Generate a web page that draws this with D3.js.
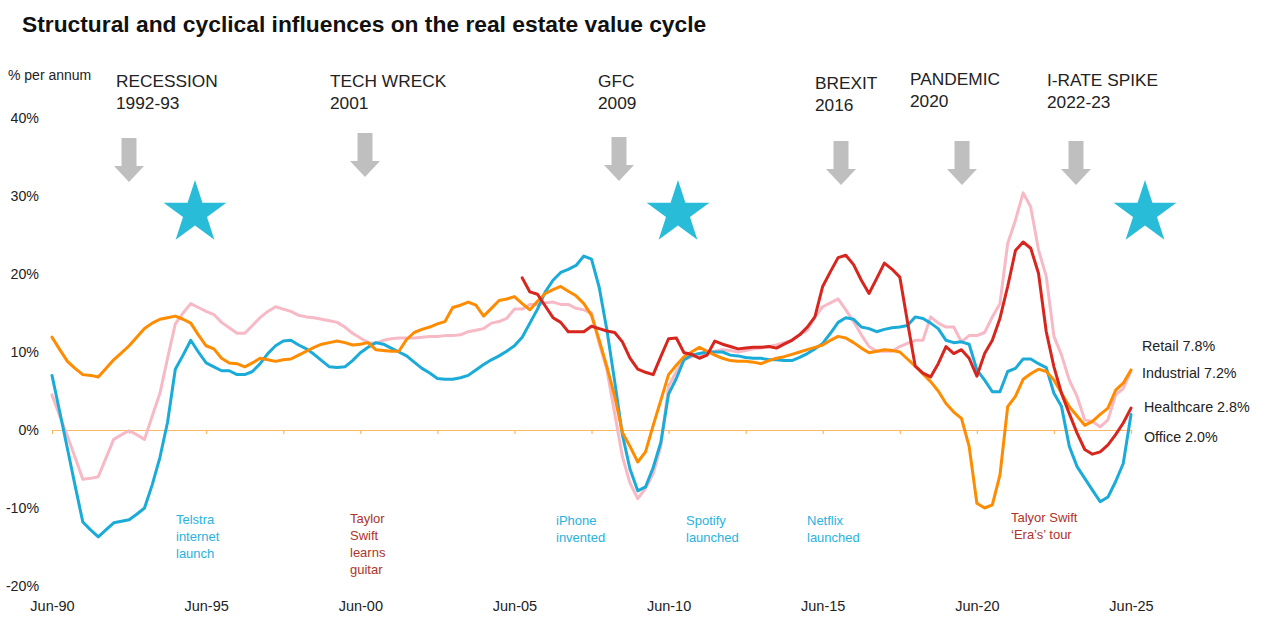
<!DOCTYPE html>
<html>
<head>
<meta charset="utf-8">
<script src="https://cdn.jsdelivr.net/npm/d3@7"></script>
<style>
  body { margin: 0; background: #fff; }
  text { font-family: "Liberation Sans", Arial, sans-serif; fill: #222; }
  .line { fill: none; stroke-width: 3; stroke-linejoin: round; stroke-linecap: round; }
</style>
</head>
<body>
<div id="chart"></div>
<script>
// quarterly rolling annual value growth, % per annum, Jun-90 .. Jun-25
let firstQuarter = "Jun-90";
let healthcareFirstQuarter = "Sep-05";

let officeVals = [
  7.0, 2.3, -2.4, -7.1, -11.8, -12.8, -13.7, -12.8, -11.9, -11.7,
  -11.5, -10.8, -10.0, -7.0, -3.5, 1.0, 7.8, 9.6, 11.5, 10.0,
  8.6, 8.1, 7.6, 7.6, 7.1, 7.1, 7.5, 8.5, 9.8, 10.8,
  11.4, 11.5, 10.9, 10.4, 9.7, 8.9, 8.1, 8.0, 8.1, 8.9,
  9.9, 10.6, 11.2, 11.0, 10.5, 10.0, 9.5, 8.7, 7.9, 7.3,
  6.6, 6.5, 6.5, 6.7, 7.0, 7.7, 8.4, 9.0, 9.5, 10.1,
  10.8, 11.9, 13.7, 15.5, 17.7, 19.2, 20.2, 20.6, 21.1, 22.3,
  21.9, 18.3, 12.8, 6.2, -0.6, -5.0, -7.8, -7.3, -4.8, -1.6,
  4.6, 6.6, 9.0, 9.6, 9.8, 10.0, 10.0, 10.0, 9.6, 9.5,
  9.3, 9.2, 9.2, 9.0, 9.0, 8.9, 8.9, 9.3, 9.8, 10.4,
  11.1, 12.4, 13.8, 14.4, 14.2, 13.2, 13.0, 12.6, 12.9, 13.1,
  13.2, 13.4, 14.5, 14.3, 13.7, 13.0, 11.5, 11.2, 11.3, 11.0,
  7.7, 6.4, 4.9, 4.9, 7.5, 7.9, 9.1, 9.1, 8.5, 8.0,
  4.7, 3.0, -2.1, -4.7, -6.2, -7.7, -9.2, -8.6, -6.6, -4.3,
  2.0
];

let retailVals = [
  4.5, 1.8, -0.8, -3.5, -6.3, -6.2, -6.0, -3.6, -1.2, -0.6,
  -0.1, -0.6, -1.2, 1.8, 4.7, 9.2, 13.6, 15.0, 16.2, 15.7,
  15.2, 14.8, 13.8, 13.1, 12.4, 12.4, 13.4, 14.4, 15.2, 15.8,
  15.5, 15.2, 14.7, 14.5, 14.4, 14.2, 14.0, 13.8, 13.2, 12.4,
  11.8, 11.2, 11.1, 11.5, 11.7, 11.8, 11.8, 11.8, 11.9, 12.0,
  12.0, 12.1, 12.1, 12.2, 12.6, 12.8, 13.0, 13.7, 13.9, 14.3,
  15.5, 15.5, 16.1, 16.1, 16.3, 16.4, 16.1, 16.1, 15.6, 15.4,
  15.0, 11.1, 7.7, 2.1, -3.4, -6.8, -8.8, -7.5, -5.6, -2.1,
  5.6, 7.5, 9.0, 9.4, 9.6, 9.9, 10.1, 10.3, 10.2, 10.0,
  10.2, 10.4, 10.5, 10.7, 10.9, 11.2, 11.5, 12.2, 12.8, 14.5,
  15.8, 16.3, 16.8, 15.4, 13.9, 12.2, 10.7, 10.1, 10.1, 10.1,
  10.7, 11.1, 11.5, 11.5, 14.5, 13.7, 13.2, 13.2, 11.3, 12.1,
  12.1, 12.5, 14.5, 16.2, 23.9, 26.9, 30.4, 28.6, 23.1, 19.7,
  12.0, 9.6, 6.4, 4.3, 1.3, 1.1, 0.4, 1.3, 4.5, 5.3,
  7.6
];

let industrialVals = [
  11.9, 10.3, 8.8, 7.9, 7.1, 7.0, 6.8, 7.9, 9.0, 9.9,
  10.8, 11.9, 13.0, 13.7, 14.2, 14.4, 14.6, 14.2, 13.7, 12.2,
  10.8, 10.4, 9.2, 8.6, 8.5, 8.1, 8.6, 9.2, 9.0, 8.8,
  9.0, 9.1, 9.6, 10.1, 10.6, 11.0, 11.2, 11.4, 11.2, 10.9,
  11.0, 11.2, 10.3, 10.2, 10.1, 10.1, 11.6, 12.5, 12.9, 13.2,
  13.6, 13.9, 15.7, 16.0, 16.4, 16.0, 14.6, 15.6, 16.6, 16.8,
  17.1, 16.2, 15.4, 16.5, 17.5, 18.0, 18.4, 17.8, 17.2, 16.2,
  14.7, 11.5, 8.1, 4.3, -0.3, -2.1, -4.1, -2.8, 0.6, 3.8,
  7.1, 8.3, 9.4, 10.0, 10.6, 10.1, 9.6, 9.2, 8.9, 8.8,
  8.8, 8.7, 8.5, 8.9, 9.2, 9.4, 9.7, 10.0, 10.3, 10.6,
  10.9, 11.5, 12.0, 11.8, 11.2, 10.5, 9.9, 10.1, 10.3, 10.2,
  10.0, 9.1, 8.2, 7.2, 6.2, 5.0, 3.4, 2.3, 1.5, -2.1,
  -9.4, -10.0, -9.6, -5.8, 3.0, 4.3, 6.5, 7.2, 7.8, 7.5,
  6.4, 4.7, 3.0, 1.8, 0.6, 1.1, 2.0, 2.8, 5.1, 6.0,
  7.7
];

// healthcare series only starts in Sep-05
let healthcareVals = [
  19.5, 17.7, 17.4, 15.9, 14.4, 13.8, 12.6, 12.6, 12.6, 13.3,
  13.0, 12.7, 12.5, 11.3, 9.2, 7.8, 7.4, 7.1, 9.4, 11.7,
  11.8, 9.9, 9.7, 9.2, 9.6, 11.4, 11.0, 10.7, 10.4, 10.5,
  10.6, 10.6, 10.7, 10.5, 11.0, 11.5, 12.2, 13.2, 14.5, 18.4,
  20.3, 22.1, 22.4, 21.2, 19.2, 17.5, 19.4, 21.4, 20.6, 19.6,
  13.9, 8.2, 7.3, 6.8, 8.5, 10.7, 9.8, 10.3, 9.2, 6.9,
  9.8, 11.5, 14.3, 18.4, 23.0, 24.1, 23.3, 20.1, 12.6, 8.1,
  4.7, 2.1, -0.4, -2.5, -3.1, -2.8, -1.9, -0.6, 0.9, 2.8
];

let xTickLabels = ["Jun-90", "Jun-95", "Jun-00", "Jun-05", "Jun-10", "Jun-15", "Jun-20", "Jun-25"];
let yTicks = [-20, -10, 0, 10, 20, 30, 40];

let seriesNames = ["Retail", "Office", "Industrial", "Healthcare"];
let seriesColors = ["#f7b9c5", "#1aabd8", "#ff8c00", "#d7261e"];

let endLabels = ["Retail 7.8%", "Industrial 7.2%", "Healthcare 2.8%", "Office 2.0%"];

let eventNames = ["RECESSION", "TECH WRECK", "GFC", "BREXIT", "PANDEMIC", "I-RATE SPIKE"];
let eventYears = ["1992-93", "2001", "2009", "2016", "2020", "2022-23"];

let noteTexts = [
  ["Telstra", "internet", "launch"],
  ["Taylor", "Swift", "learns", "guitar"],
  ["iPhone", "invented"],
  ["Spotify", "launched"],
  ["Netflix", "launched"],
  ["Talyor Swift", "\u2018Era\u2019s\u2019 tour"]
];

// layout ---------------------------------------------------------------
let window_width = 1267;
let window_height = 644;
let plot_left = 52;
let plot_right = 1131;
let plot_top = 118;
let plot_bottom = 586;

let event_layout = [
  {tx: 116, ty: 87, ax: 129, atop: 138},
  {tx: 330, ty: 87, ax: 365, atop: 133},
  {tx: 598, ty: 87, ax: 619, atop: 137},
  {tx: 815, ty: 89, ax: 841, atop: 141},
  {tx: 910, ty: 85, ax: 962, atop: 141},
  {tx: 1047, ty: 86, ax: 1076, atop: 141}
];
let star_layout = [{x: 195, y: 213}, {x: 678, y: 213}, {x: 1145, y: 213}];
let note_layout = [
  {x: 176, y: 524, c: "#29b2dd"},
  {x: 350, y: 523, c: "#b03328"},
  {x: 556, y: 525, c: "#29b2dd"},
  {x: 686, y: 525, c: "#29b2dd"},
  {x: 807, y: 525, c: "#29b2dd"},
  {x: 1011, y: 522, c: "#b03328"}
];
let end_label_layout = [
  {x: 1142, y: 351}, {x: 1142, y: 378}, {x: 1144, y: 412}, {x: 1144, y: 442}
];

let parseQ = d3.timeParse("%b-%y");
let formatQ = d3.timeFormat("%b-%y");

function quarter_dates(startLabel, n) {
  let start = parseQ(startLabel);
  return d3.range(n).map(i => d3.timeMonth.offset(start, 3 * i));
}

function make_series(vals, startLabel) {
  let dates = quarter_dates(startLabel, vals.length);
  return vals.map((v, i) => ({date: dates[i], value: v}));
}

let series = {
  "Retail": make_series(retailVals, firstQuarter),
  "Office": make_series(officeVals, firstQuarter),
  "Industrial": make_series(industrialVals, firstQuarter),
  "Healthcare": make_series(healthcareVals, healthcareFirstQuarter)
};

let svg = d3.select("#chart").append("svg")
  .attr("width", window_width)
  .attr("height", window_height);

let x = d3.scaleTime()
  .domain([parseQ(xTickLabels[0]), parseQ(xTickLabels[xTickLabels.length - 1])])
  .range([plot_left, plot_right]);

let y = d3.scaleLinear()
  .domain([d3.min(yTicks), d3.max(yTicks)])
  .range([plot_bottom, plot_top]);

// title
svg.append("text")
  .attr("x", 22)
  .attr("y", 32)
  .style("font-size", "22.8px")
  .style("font-weight", "bold")
  .style("fill", "#111")
  .text("Structural and cyclical influences on the real estate value cycle");

svg.append("text")
  .attr("x", 8)
  .attr("y", 80)
  .style("font-size", "14px")
  .text("% per annum");

// y labels
let yAxis = svg.append("g")
  .attr("transform", "translate(39,0)")
  .call(d3.axisLeft(y).tickValues(yTicks).tickSize(0).tickPadding(0).tickFormat(d => d + "%"));
yAxis.select(".domain").remove();
yAxis.selectAll("text").style("font-size", "14.2px").style("font-family", "Liberation Sans, Arial, sans-serif").style("fill", "#222");

// zero line with small ticks every 2.5 years
let minorTicks = d3.range(15).map(k => d3.timeMonth.offset(x.domain()[0], 30 * k));
let zeroAxis = svg.append("g")
  .attr("transform", "translate(0," + y(0) + ")")
  .call(d3.axisBottom(x).tickValues(minorTicks).tickSize(4).tickSizeOuter(0).tickFormat(""));
zeroAxis.selectAll(".domain, line").attr("stroke", "#fdb863").attr("stroke-width", 1.2);

// x labels
let xAxis = svg.append("g")
  .attr("transform", "translate(0,598)")
  .call(d3.axisBottom(x).tickValues(xTickLabels.map(parseQ)).tickSize(0).tickPadding(3).tickFormat(formatQ));
xAxis.select(".domain").remove();
xAxis.selectAll("text").style("font-size", "14.5px").style("font-family", "Liberation Sans, Arial, sans-serif").style("fill", "#222");

// lines
let line = d3.line()
  .x(d => x(d.date))
  .y(d => y(d.value));

svg.selectAll(".line")
  .data(seriesNames)
  .enter()
  .append("path")
  .attr("class", "line")
  .attr("stroke", (d, i) => seriesColors[i])
  .attr("stroke-width", d => d == "Industrial" ? 3.3 : 3)
  .attr("d", d => line(series[d]));

// end labels
svg.selectAll(".endlabel")
  .data(endLabels)
  .enter()
  .append("text")
  .attr("class", "endlabel")
  .attr("x", (d, i) => end_label_layout[i].x)
  .attr("y", (d, i) => end_label_layout[i].y)
  .style("font-size", "14.3px")
  .text(d => d);

// events: headings + arrows
let ev = svg.selectAll(".event")
  .data(eventNames)
  .enter()
  .append("g")
  .attr("class", "event");

ev.append("text")
  .attr("x", (d, i) => event_layout[i].tx)
  .attr("y", (d, i) => event_layout[i].ty)
  .style("font-size", "17.3px")
  .text(d => d);
ev.append("text")
  .attr("x", (d, i) => event_layout[i].tx)
  .attr("y", (d, i) => event_layout[i].ty + 22)
  .style("font-size", "17.3px")
  .text((d, i) => eventYears[i]);
ev.append("path")
  .attr("fill", "#bfbfbf")
  .attr("d", (d, i) => {
    let cx = event_layout[i].ax, t = event_layout[i].atop;
    return "M" + (cx - 7.5) + "," + t + " h15 v28 h7.5 l-15,16 l-15,-16 h7.5 Z";
  });

// stars
function star_path(cx, cy, R) {
  let r = R * 0.382;
  let pts = d3.range(10).map(k => {
    let a = -Math.PI / 2 + k * Math.PI / 5;
    let rad = k % 2 == 0 ? R : r;
    return [cx + rad * Math.cos(a), cy + rad * Math.sin(a)];
  });
  return "M" + pts.join("L") + "Z";
}
svg.selectAll(".star")
  .data(star_layout)
  .enter()
  .append("path")
  .attr("class", "star")
  .attr("fill", "#29bcd9")
  .attr("d", d => star_path(d.x, d.y, 33));

// bottom notes
noteTexts.forEach((lines, i) => {
  let t = svg.append("text")
    .attr("x", note_layout[i].x)
    .attr("y", note_layout[i].y)
    .style("font-size", "13px")
    .style("fill", note_layout[i].c);
  lines.forEach((s, k) => {
    t.append("tspan")
      .attr("x", note_layout[i].x)
      .attr("dy", k == 0 ? 0 : 17)
      .text(s);
  });
});
</script>
</body>
</html>
